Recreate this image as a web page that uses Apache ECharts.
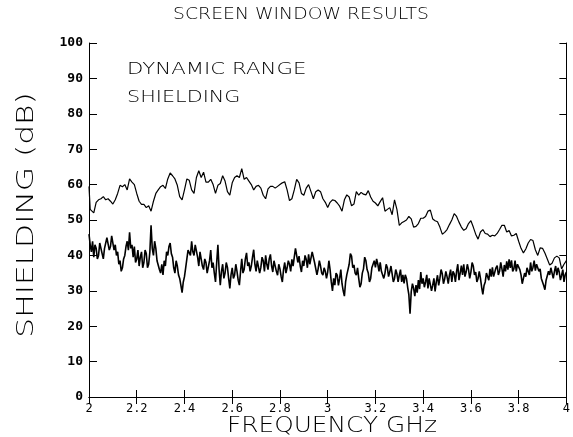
<!DOCTYPE html>
<html>
<head>
<meta charset="utf-8">
<script src="https://cdn.jsdelivr.net/npm/echarts@6/dist/echarts.min.js"></script>
<style>
html,body{margin:0;padding:0;background:#fff;}
#chart{width:573px;height:437px;}
</style>
</head>
<body>
<div id="chart"></div>
<script>
// Frequency (GHz), level (dB) pairs
var dynamicRange = [
[2.00,59.5],[2.005,53],[2.01,53.5],[2.02,52],[2.03,55],[2.04,55.7],[2.05,56],[2.06,56.6],[2.07,55.7],[2.08,56],[2.09,55.3],
[2.10,54.5],[2.11,55.7],[2.12,57.5],[2.13,59.8],[2.14,59.4],[2.15,60],[2.16,58.5],[2.17,61.6],[2.18,60.7],[2.19,60],
[2.20,57.5],[2.21,55.3],[2.22,54.4],[2.23,54.4],[2.24,53.5],[2.25,54],[2.26,52.5],[2.27,55.3],[2.28,57.5],[2.29,58.5],
[2.30,59.4],[2.31,59.8],[2.32,58.9],[2.33,61.6],[2.34,63.3],[2.35,62.5],[2.36,61.6],[2.37,59.8],[2.38,56.6],[2.39,55.7],
[2.40,58.5],[2.41,61.6],[2.42,61.2],[2.43,58.5],[2.44,57.5],[2.45,62],[2.46,63.9],[2.47,62],[2.48,63.5],[2.49,60.7],
[2.50,60.7],[2.51,61.5],[2.52,60],[2.53,57.5],[2.54,59.8],[2.55,60.3],[2.56,62.5],[2.57,61],[2.58,58],[2.59,57],
[2.60,60.5],[2.61,62],[2.62,62.5],[2.63,62],[2.64,64.5],[2.65,61.5],[2.66,62],[2.67,61],[2.68,60],[2.69,58.5],
[2.70,59.5],[2.71,59.8],[2.72,59],[2.73,57],[2.74,56],[2.75,58.8],[2.76,59.5],[2.77,59.5],[2.78,59],[2.79,59.5],
[2.80,60],[2.81,60.5],[2.82,60.8],[2.83,58.5],[2.84,55.5],[2.85,56],[2.86,58.5],[2.87,61.5],[2.88,60.5],[2.89,57.5],
[2.90,57],[2.91,59],[2.92,60],[2.93,58],[2.94,56],[2.95,58],[2.96,58.5],[2.97,58],[2.98,56],[2.99,55],
[3.00,53.5],[3.01,55],[3.02,55.7],[3.03,55.5],[3.04,54.8],[3.05,53.9],[3.06,52.5],[3.07,55.7],[3.08,57.1],[3.09,56.5],
[3.10,54],[3.11,54.5],[3.12,58],[3.13,57],[3.14,57.8],[3.15,57.3],[3.16,57.1],[3.17,58.3],[3.18,56.5],[3.19,55.3],
[3.20,54.8],[3.21,54],[3.22,55.2],[3.23,56.3],[3.24,52.5],[3.25,53],[3.26,53.5],[3.27,51.5],[3.28,55.7],[3.29,53],
[3.30,48.5],[3.31,49.2],[3.32,49.6],[3.33,50],[3.34,51],[3.35,50.3],[3.36,48],[3.37,48.2],[3.38,49],[3.39,50.5],
[3.40,50.5],[3.41,51],[3.42,52.5],[3.43,52.8],[3.44,50.3],[3.45,49.8],[3.46,49.5],[3.47,48],[3.48,46],[3.49,46.5],
[3.50,47.3],[3.51,48.7],[3.52,50],[3.53,51.8],[3.54,51],[3.55,49.4],[3.56,48],[3.57,47.1],[3.58,47.5],[3.59,49],
[3.60,49.8],[3.61,48],[3.62,46],[3.63,44.6],[3.64,46.6],[3.65,47.3],[3.66,46.2],[3.67,46],[3.68,45.3],[3.69,45.7],
[3.70,45.5],[3.71,46.2],[3.72,47.3],[3.73,48.5],[3.74,48.5],[3.75,46.6],[3.76,47],[3.77,45.5],[3.78,45.7],[3.79,46.2],
[3.80,44],[3.81,42],[3.82,40.7],[3.83,41.8],[3.84,43.5],[3.85,44.5],[3.86,44.2],[3.87,41.6],[3.88,40],[3.89,42.1],
[3.90,42],[3.91,40.7],[3.92,39],[3.93,37.3],[3.94,37.8],[3.95,39.3],[3.96,39.8],[3.97,39.3],[3.98,36.2],[3.99,37.5],
[4.00,38.5]
];

var shielding = [
[2.00,46],[2.005,43],[2.01,41],[2.015,44],[2.02,39.5],[2.025,43],[2.03,42],[2.035,39],[2.04,40],[2.045,43.5],
[2.05,44],[2.055,40.5],[2.06,39],[2.065,42],[2.07,41.5],[2.075,45],[2.08,44.5],[2.085,41.5],[2.09,42.5],[2.095,45.5],
[2.10,45],[2.105,41.5],[2.11,43],[2.115,40],[2.12,41],[2.125,37.5],[2.13,38.5],[2.135,35.5],[2.14,36.5],[2.145,39],
[2.15,40],[2.155,42.5],[2.16,44],[2.165,41.5],[2.17,46.5],[2.175,42],[2.18,43],[2.185,39.5],[2.19,42.5],[2.195,38],
[2.20,39],[2.205,41.5],[2.21,37],[2.215,39.5],[2.22,41],[2.225,36.5],[2.23,38],[2.235,41.5],[2.24,40.5],[2.245,36.5],
[2.25,37.5],[2.255,41],[2.26,48.5],[2.265,42],[2.27,40],[2.275,44],[2.28,42],[2.285,38.5],[2.29,38],[2.295,36],
[2.30,35],[2.305,37.5],[2.31,34.5],[2.315,38.5],[2.32,37],[2.325,41],[2.33,40],[2.335,42.5],[2.34,43.5],[2.345,40.5],
[2.35,39.5],[2.355,36.5],[2.36,35],[2.365,38.5],[2.37,37],[2.375,34.5],[2.38,33.5],[2.385,31.5],[2.39,29.5],[2.395,32.5],
[2.40,34],[2.405,36.5],[2.41,39],[2.415,41.5],[2.42,42],[2.425,40],[2.43,44],[2.435,41],[2.44,40],[2.445,43],
[2.45,42.5],[2.455,39.5],[2.46,37],[2.465,41],[2.47,40.5],[2.475,37],[2.48,36],[2.485,39],[2.49,38],[2.495,35],
[2.50,35.5],[2.505,38.5],[2.51,41.5],[2.515,36.5],[2.52,38],[2.525,35],[2.53,32.5],[2.535,38],[2.54,43],[2.545,36],
[2.55,31.6],[2.555,35.5],[2.56,37.5],[2.565,33.5],[2.57,35],[2.575,38],[2.58,36.6],[2.585,33.5],[2.59,30.7],[2.595,34.5],
[2.60,36.5],[2.605,33.5],[2.61,34.5],[2.615,37.5],[2.62,35.5],[2.625,33],[2.63,31.6],[2.635,35.5],[2.64,39],[2.645,35],
[2.65,36],[2.655,39],[2.66,40.7],[2.665,37],[2.67,38],[2.675,35.5],[2.68,37],[2.685,39.5],[2.69,41.6],[2.695,37.5],
[2.70,35.5],[2.705,38.5],[2.71,39],[2.715,35],[2.72,36.6],[2.725,39.5],[2.73,38.5],[2.735,35.5],[2.74,40],[2.745,37.5],
[2.75,36],[2.755,39],[2.76,40.3],[2.765,37],[2.77,35.3],[2.775,38.5],[2.78,38.9],[2.785,35.5],[2.79,34.4],[2.795,37.5],
[2.80,36.2],[2.805,34],[2.81,32.5],[2.815,36],[2.82,38],[2.825,35],[2.83,36.5],[2.835,38.5],[2.84,37.5],[2.845,35.5],
[2.85,38.9],[2.855,37],[2.86,39.5],[2.865,42],[2.87,41.6],[2.875,38],[2.88,39.8],[2.885,37],[2.89,35.3],[2.895,38.5],
[2.90,37],[2.905,40],[2.91,38.9],[2.915,36.5],[2.92,40.3],[2.925,37.5],[2.93,38],[2.935,41],[2.94,40.7],[2.945,38],
[2.95,37.5],[2.955,34.5],[2.96,36.2],[2.965,38.5],[2.97,37],[2.975,35],[2.98,34.4],[2.985,36.5],[2.99,35.5],[2.995,33.5],
[3.00,35.3],[3.005,38.5],[3.01,36],[3.015,32.5],[3.02,30],[3.025,33.5],[3.03,31.6],[3.035,35],[3.04,34.4],[3.045,31.5],
[3.05,33.5],[3.055,36],[3.06,32],[3.065,30],[3.07,28.5],[3.075,32.5],[3.08,34.5],[3.085,36],[3.09,37.5],[3.095,40.5],
[3.10,39.8],[3.105,36.5],[3.11,37.3],[3.115,35],[3.12,34.4],[3.125,36.5],[3.13,33.5],[3.135,31],[3.14,32],[3.145,35],
[3.15,36.2],[3.155,39.5],[3.16,38.5],[3.165,36],[3.17,35],[3.175,32.5],[3.18,33.5],[3.185,36.5],[3.19,36.2],[3.195,38.5],
[3.20,36.6],[3.205,39],[3.21,37.5],[3.215,35.5],[3.22,38],[3.225,35.5],[3.23,36],[3.235,33.5],[3.24,35],[3.245,37.5],
[3.25,36.5],[3.255,34],[3.26,35.3],[3.265,37],[3.27,34.8],[3.275,32.5],[3.28,33.5],[3.285,36],[3.29,34.8],[3.295,32.5],
[3.30,34.4],[3.305,36],[3.31,32.5],[3.315,34.5],[3.32,32.1],[3.325,34.5],[3.33,33.5],[3.335,31],[3.34,28.9],[3.345,23.5],
[3.35,29.8],[3.355,32],[3.36,30.7],[3.365,28.5],[3.37,31.6],[3.375,29.5],[3.38,33],[3.385,30.5],[3.39,35.3],[3.395,32],
[3.40,33.5],[3.405,31],[3.41,32.5],[3.415,34.5],[3.42,30.7],[3.425,33.5],[3.43,33],[3.435,30],[3.44,31.6],[3.445,33.5],
[3.45,29.8],[3.455,32.5],[3.46,34.4],[3.465,31.5],[3.47,33.5],[3.475,36],[3.48,34.8],[3.485,32],[3.49,33.3],[3.495,35.5],
[3.50,34],[3.505,32],[3.51,34.4],[3.515,36],[3.52,32.5],[3.525,35.5],[3.53,34.8],[3.535,32.5],[3.54,35.5],[3.545,37.5],
[3.55,33],[3.555,35],[3.56,37.1],[3.565,34.5],[3.57,37.5],[3.575,34],[3.58,35.3],[3.585,37.5],[3.59,36],[3.595,33.5],
[3.60,35.3],[3.605,38],[3.61,37],[3.615,34.5],[3.62,35.3],[3.625,32.5],[3.63,33.5],[3.635,35.5],[3.64,33.5],[3.645,31],
[3.65,29],[3.655,31.5],[3.66,32.5],[3.665,35],[3.67,35.3],[3.675,33],[3.68,36.2],[3.685,34],[3.69,36.6],[3.695,34],
[3.70,34.4],[3.705,36.5],[3.71,37.1],[3.715,34.5],[3.72,35.5],[3.725,38],[3.73,36.2],[3.735,34],[3.74,37.3],[3.745,35.5],
[3.75,38.3],[3.755,36],[3.76,38.9],[3.765,36.5],[3.77,38.6],[3.775,35.5],[3.78,36.2],[3.785,38.5],[3.79,35.5],[3.795,37.5],
[3.80,38],[3.805,36],[3.81,34.5],[3.815,32],[3.82,32.5],[3.825,35],[3.83,34],[3.835,36.5],[3.84,36.6],[3.845,34.5],
[3.85,38],[3.855,35.5],[3.86,36.6],[3.865,38.5],[3.87,35.7],[3.875,37.5],[3.88,38],[3.885,35.5],[3.89,36.2],[3.895,33.5],
[3.90,34],[3.905,31.5],[3.91,30.3],[3.915,33],[3.92,32.5],[3.925,35.5],[3.93,34.5],[3.935,36.5],[3.94,36.2],[3.945,33.5],
[3.95,35.5],[3.955,37],[3.96,34.4],[3.965,36.5],[3.97,35.3],[3.975,33],[3.98,34.4],[3.985,36],[3.99,32.5],[3.995,34.5],
[4.00,35.3]
];

var chartTitle = 'SCREEN WINDOW RESULTS';
var xName = 'FREQUENCY GHz';
var yName = 'SHIELDING (dB)';
var noteLabels = ['DYNAMIC RANGE', 'SHIELDING'];

var ink = '#000';
var lightFont = 'DejaVu Sans';
var chart = echarts.init(document.getElementById('chart'), null, {renderer: 'canvas'});

var hiddenAxisCommon = {
  axisLabel: {show: false},
  splitLine: {show: false},
  axisLine: {show: true, lineStyle: {color: ink, width: 1}},
  axisTick: {show: true, inside: true, length: 7, lineStyle: {color: ink, width: 1}}
};

function plotText(str, x, y, size, sx, extra) {
  var el = {
    type: 'text', x: x, y: y, scaleX: sx, silent: true,
    style: {text: str, fontFamily: lightFont, fontWeight: 200, fontSize: size, fill: ink,
            textAlign: 'left', textVerticalAlign: 'top'}
  };
  if (extra) { Object.assign(el, extra.el || {}); Object.assign(el.style, extra.style || {}); }
  return el;
}

chart.setOption({
  backgroundColor: '#fff',
  animation: false,
  graphic: [
    plotText(chartTitle, 173, 6, 16.5, 1.14),
    plotText(noteLabels[0], 127, 61, 16.5, 1.29),
    plotText(noteLabels[1], 127, 89, 16.5, 1.26),
    plotText(xName, 227, 416, 20.5, 1.21),
    plotText(yName, 27.5, 215, 23, 1.36, {el: {rotation: Math.PI / 2}, style: {textAlign: 'center', textVerticalAlign: 'middle'}})
  ],
  grid: {left: 89, right: 2, top: 43, bottom: 40, show: false},
  xAxis: [
    {
      type: 'value', min: 2, max: 4, interval: 0.2, position: 'bottom',
      axisLine: {show: true, lineStyle: {color: ink, width: 1}},
      axisTick: {show: true, inside: true, length: 7, lineStyle: {color: ink, width: 1}},
      splitLine: {show: false},
      axisLabel: {
        fontFamily: 'DejaVu Sans Mono', fontSize: 12, color: ink, margin: 6,
        formatter: function (v) { return String(+v.toFixed(1)); }
      }
    },
    Object.assign({type: 'value', min: 2, max: 4, interval: 0.2, position: 'top'}, hiddenAxisCommon)
  ],
  yAxis: [
    {
      type: 'value', min: 0, max: 100, interval: 10, position: 'left',
      axisLine: {show: true, lineStyle: {color: ink, width: 1}},
      axisTick: {show: true, inside: true, length: 8, lineStyle: {color: ink, width: 1}},
      splitLine: {show: false},
      axisLabel: {fontFamily: 'DejaVu Sans Mono', fontWeight: 'bold', fontSize: 13, color: ink, margin: 6}
    },
    Object.assign({type: 'value', min: 0, max: 100, interval: 10, position: 'right'}, hiddenAxisCommon)
  ],
  series: [
    {
      name: noteLabels[0], type: 'line', data: dynamicRange, showSymbol: false, symbol: 'none',
      lineStyle: {color: ink, width: 1.2}, z: 3
    },
    {
      name: noteLabels[1], type: 'line', data: shielding, showSymbol: false, symbol: 'none',
      lineStyle: {color: ink, width: 1.6}, z: 3
    }
  ]
});
</script>
</body>
</html>
